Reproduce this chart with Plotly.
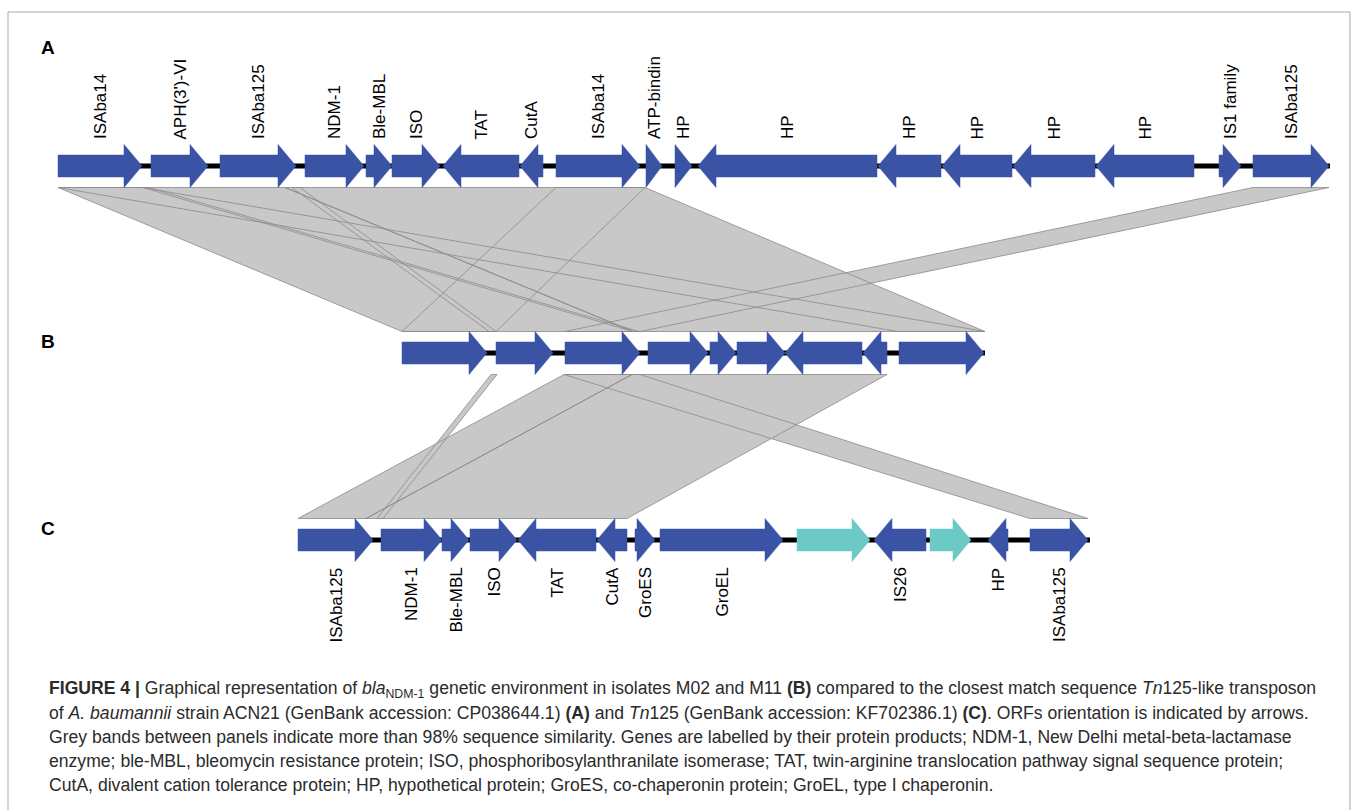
import plotly.graph_objects as go

# ---------------- data ----------------
# vertical row of each track (layout positions in figure pixels)
track_y = {"A": 166, "B": 353, "C": 540}

# Track A : Tn125-like transposon, A. baumannii ACN21 (gene coordinates on the map scale)
A_start = [58, 151, 220, 305, 366, 392, 443, 520, 556, 646, 675, 698, 878, 942, 1013, 1096, 1219, 1253]
A_end = [142, 208, 296, 364, 392, 440, 519, 543, 640, 662, 692, 877, 941, 1012, 1095, 1194, 1241, 1329]
A_strand = [1, 1, 1, 1, 1, 1, -1, -1, 1, 1, 1, -1, -1, -1, -1, -1, 1, 1]
A_label = ["ISAba14", "APH(3')-VI", "ISAba125", "NDM-1", "Ble-MBL", "ISO", "TAT", "CutA",
           "ISAba14", "ATP-bindin", "HP", "HP", "HP", "HP", "HP", "HP", "IS1 family", "ISAba125"]
A_kind = ["main"] * 18
A_span = [58, 1330]

# Track B : isolates M02 / M11
B_start = [402, 496, 565, 648, 710, 737, 785, 863, 899]
B_end = [487, 553, 640, 708, 736, 785, 862, 887, 984]
B_strand = [1, 1, 1, 1, 1, 1, -1, -1, 1]
B_label = [""] * 9
B_kind = ["main"] * 9
B_span = [402, 985]

# Track C : Tn125 (KF702386.1)
C_start = [298, 381, 442, 470, 518, 597, 635, 660, 797, 874, 930, 988, 1030]
C_end = [373, 442, 469, 517, 596, 627, 655, 783, 870, 926, 971, 1008, 1088]
C_strand = [1, 1, 1, 1, -1, -1, 1, 1, 1, -1, 1, -1, 1]
C_label = ["ISAba125", "NDM-1", "Ble-MBL", "ISO", "TAT", "CutA", "GroES", "GroEL",
           "", "IS26", "", "HP", "ISAba125"]
C_kind = ["main"] * 8 + ["other", "main", "other", "main", "main"]
C_span = [298, 1090]

# Similarity bands A -> B (start/end on A, start/end on B)
AB_a0 = [58, 285, 556, 58, 143, 292, 1253]
AB_a1 = [285, 645, 645, 142, 149, 300, 1329]
AB_b0 = [402, 633, 402, 898, 633, 489, 565]
AB_b1 = [633, 985, 496, 985, 639, 496, 640]

# Similarity bands B -> C
BC_b0 = [564, 632, 491, 564]
BC_b1 = [632, 887, 497, 640]
BC_c0 = [298, 366, 377, 1030]
BC_c1 = [366, 627, 383, 1088]

caption_lines = [
    "<b>FIGURE 4 |</b> Graphical representation of <i>bla</i><sub>NDM-1</sub> genetic environment in isolates M02 and M11 <b>(B)</b> compared to the closest match sequence <i>Tn</i>125-like transposon",
    "of <i>A. baumannii</i> strain ACN21 (GenBank accession: CP038644.1) <b>(A)</b> and <i>Tn</i>125 (GenBank accession: KF702386.1) <b>(C)</b>. ORFs orientation is indicated by arrows.",
    "Grey bands between panels indicate more than 98% sequence similarity. Genes are labelled by their protein products; NDM-1, New Delhi metal-beta-lactamase",
    "enzyme; ble-MBL, bleomycin resistance protein; ISO, phosphoribosylanthranilate isomerase; TAT, twin-arginine translocation pathway signal sequence protein;",
    "CutA, divalent cation tolerance protein; HP, hypothetical protein; GroES, co-chaperonin protein; GroEL, type I chaperonin.",
]

# ---------------- style ----------------
W, H = 1357, 810
BLUE = "#3A53A4"
CYAN = "#6CCAC6"
BAND_FILL = "#C8C8C8"
BAND_LINE = "#8A8A8A"
BODY_H = 11
HEAD_H = 21.5
HEAD_L = 18
FONT = "Liberation Sans, Arial, sans-serif"

fig = go.Figure()


def arrow_pts(s, e, strand, yc):
    h = min(HEAD_L, e - s)
    if strand == 1:
        xb = e - h
        xs = [s, xb, xb, e, xb, xb, s, s]
    else:
        xb = s + h
        xs = [e, xb, xb, s, xb, xb, e, e]
    ys = [yc - BODY_H, yc - BODY_H, yc - HEAD_H, yc, yc + HEAD_H, yc + BODY_H, yc + BODY_H, yc - BODY_H]
    return xs, ys


def add_bands(s0, s1, t0, t1, ys, yt):
    xs, yy = [], []
    for a0, a1, b0, b1 in zip(s0, s1, t0, t1):
        xs += [a0, a1, b1, b0, a0, None]
        yy += [ys, ys, yt, yt, ys, None]
    fig.add_trace(go.Scatter(x=xs, y=yy, mode="lines", fill="toself", fillcolor=BAND_FILL,
                             line=dict(color=BAND_LINE, width=0.8), hoverinfo="skip",
                             showlegend=False))


add_bands(AB_a0, AB_a1, AB_b0, AB_b1, track_y["A"] + HEAD_H, track_y["B"] - HEAD_H)
add_bands(BC_b0, BC_b1, BC_c0, BC_c1, track_y["B"] + HEAD_H, track_y["C"] - HEAD_H)

tracks = [
    ("A", A_start, A_end, A_strand, A_label, A_kind, A_span, "above"),
    ("B", B_start, B_end, B_strand, B_label, B_kind, B_span, None),
    ("C", C_start, C_end, C_strand, C_label, C_kind, C_span, "below"),
]

annotations = []
for name, st, en, sd, lab, kind, span, lab_pos in tracks:
    yc = track_y[name]
    # backbone
    fig.add_trace(go.Scatter(x=span, y=[yc, yc], mode="lines", line=dict(color="black", width=5),
                             hoverinfo="skip", showlegend=False))
    for k, col in (("main", BLUE), ("other", CYAN)):
        xs, ys = [], []
        for s, e, d, kk in zip(st, en, sd, kind):
            if kk != k:
                continue
            px, py = arrow_pts(s, e, d, yc)
            xs += px + [None]
            ys += py + [None]
        if xs:
            fig.add_trace(go.Scatter(x=xs, y=ys, mode="lines", fill="toself", fillcolor=col,
                                     line=dict(color=col, width=0.5), hoverinfo="skip",
                                     showlegend=False))
    for s, e, t in zip(st, en, lab):
        if not t:
            continue
        xc = (s + e) / 2
        if lab_pos == "above":
            annotations.append(dict(x=xc, y=yc - HEAD_H - 3, text=t, textangle=-90, showarrow=False,
                                    xanchor="center", yanchor="bottom",
                                    font=dict(family=FONT, size=17, color="black")))
        else:
            annotations.append(dict(x=xc, y=yc + HEAD_H + 4, text=t, textangle=-90, showarrow=False,
                                    xanchor="center", yanchor="top",
                                    font=dict(family=FONT, size=17, color="black")))
    annotations.append(dict(x=48, y=yc - 12 if name != "A" else 47, text="<b>%s</b>" % name,
                            showarrow=False, xanchor="center", yanchor="middle",
                            font=dict(family=FONT, size=19, color="black")))

cap_y0, cap_dy = 689, 24.0
for i, line in enumerate(caption_lines):
    annotations.append(dict(x=47, y=cap_y0 + i * cap_dy, text=line, showarrow=False,
                            xanchor="left", yanchor="middle",
                            font=dict(family=FONT, size=17.6, color="#2b2b2b")))

fig.update_layout(
    width=W, height=H, margin=dict(l=0, r=0, t=0, b=0),
    paper_bgcolor="white", plot_bgcolor="white",
    xaxis=dict(range=[0, W], visible=False, fixedrange=True),
    yaxis=dict(range=[H, 0], visible=False, fixedrange=True),
    annotations=annotations,
    shapes=[dict(type="rect", xref="x", yref="y", x0=8, y0=12, x1=1350, y1=816,
                 line=dict(color="#A8A8A8", width=1), fillcolor="rgba(0,0,0,0)", layer="below")],
    showlegend=False,
)

fig.write_html("out.html", config={"displayModeBar": False},
               post_script="document.body.style.margin='0';document.body.style.overflow='hidden';")
